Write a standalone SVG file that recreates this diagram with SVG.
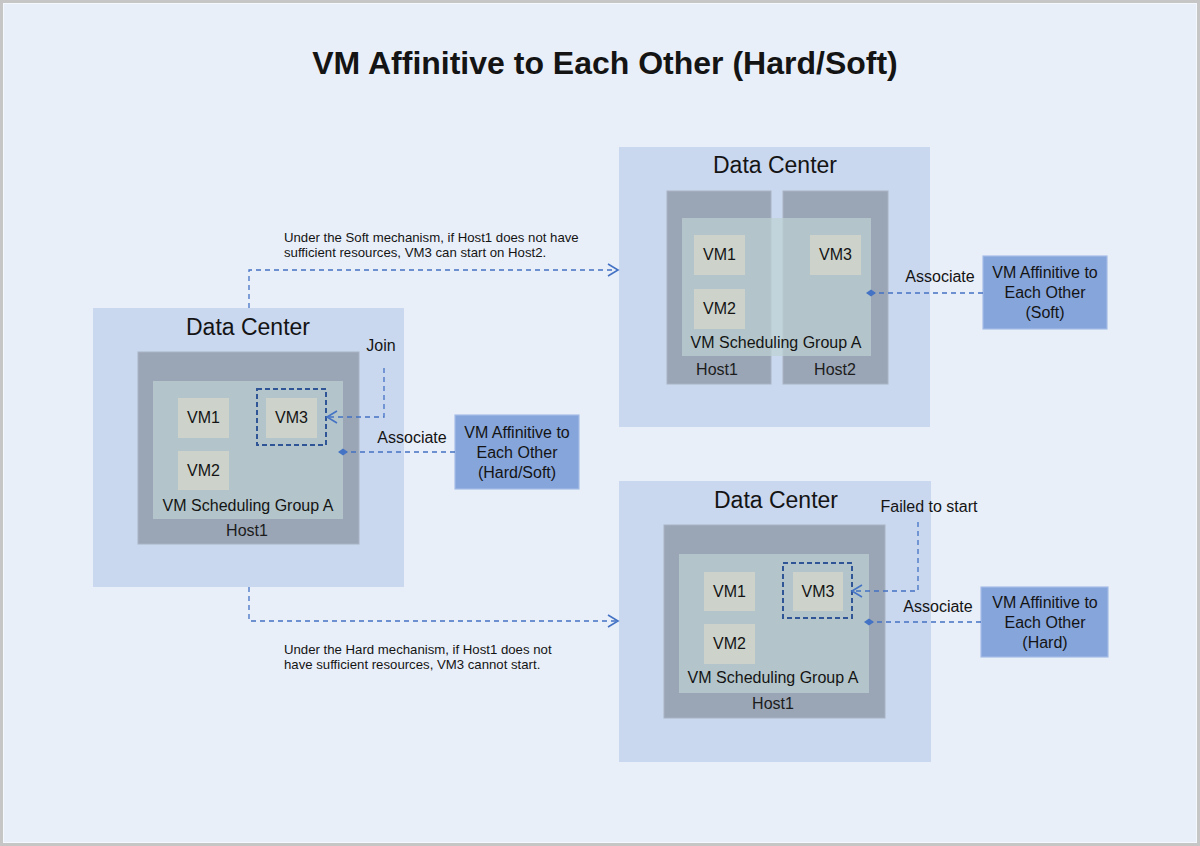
<svg xmlns="http://www.w3.org/2000/svg" width="1200" height="846" viewBox="0 0 1200 846">
<style>
text{font-family:"Liberation Sans",Arial,Helvetica,sans-serif;fill:#141414}
.title{font-size:32px;font-weight:bold;text-anchor:middle}
.dc{fill:#C9D7EF}
.dct{font-size:23px;text-anchor:middle}
.host{fill:#9AA5B5;stroke:#A9B3C3;stroke-width:1}
.grp{fill:#BED3D3;fill-opacity:0.7}
.vm{fill:#CDD3CB}
.lbl{font-size:16px;text-anchor:middle}
.vml{font-size:16px;text-anchor:middle}
.hl{font-size:16px;text-anchor:middle;fill:#1c1c1c}
.note{font-size:13.2px}
.pol{fill:#86A5DB;stroke:#A6BCE6;stroke-width:1.2}
.sel{fill:none;stroke:#2F5597;stroke-width:2;stroke-dasharray:5,3}
.con{fill:none;stroke:#4472C4;stroke-width:1.3;stroke-dasharray:5,4}
</style>
<defs>
<marker id="arr" markerUnits="userSpaceOnUse" markerWidth="13" markerHeight="15" refX="11" refY="7.5" orient="auto">
<path d="M1,1.5 L11,7.5 L1,13.5" fill="none" stroke="#4472C4" stroke-width="1.6"/>
</marker>
<marker id="dia" markerUnits="userSpaceOnUse" markerWidth="10" markerHeight="8" refX="5" refY="4" orient="auto">
<path d="M0,4 L5,0.5 L10,4 L5,7.5 Z" fill="#4472C4"/>
</marker>
</defs>
<rect x="0" y="0" width="1200" height="846" fill="#C6C6C6"/>
<rect x="3.5" y="3.5" width="1193" height="839" fill="#E9EFF9" stroke="#F5F8FC" stroke-width="1"/>
<text class="title" x="605" y="74">VM Affinitive to Each Other (Hard/Soft)</text>

<g id="dc-left">
<rect class="dc" x="93" y="308" width="311" height="279"/>
<text class="dct" x="248" y="335">Data Center</text>
<rect class="host" x="138" y="352" width="221" height="192"/>
<rect class="grp" x="153" y="381" width="190" height="138"/>
<rect class="vm" x="178" y="398" width="51" height="40"/>
<text class="vml" x="203.5" y="423">VM1</text>
<rect class="vm" x="178" y="451" width="51" height="39"/>
<text class="vml" x="203.5" y="476">VM2</text>
<rect class="vm" x="266" y="398" width="51" height="40"/>
<text class="vml" x="291.5" y="423">VM3</text>
<rect class="sel" x="257" y="389" width="69" height="56"/>
<text class="lbl" x="248" y="511">VM Scheduling Group A</text>
<text class="hl" x="247" y="536">Host1</text>
</g>

<g id="policy-hardsoft">
<rect class="pol" x="455" y="415" width="124" height="74"/>
<text class="lbl" x="517" y="438">VM Affinitive to</text>
<text class="lbl" x="517" y="458">Each Other</text>
<text class="lbl" x="517" y="478">(Hard/Soft)</text>
</g>

<g id="dc-soft">
<rect class="dc" x="619" y="147" width="311" height="280"/>
<text class="dct" x="775" y="173">Data Center</text>
<rect class="host" x="667" y="191" width="104" height="193"/>
<rect class="host" x="783" y="191" width="105" height="193"/>
<rect class="grp" x="682" y="218" width="189" height="138"/>
<rect class="vm" x="694" y="235" width="51" height="40"/>
<text class="vml" x="719.5" y="260">VM1</text>
<rect class="vm" x="694" y="289" width="51" height="40"/>
<text class="vml" x="719.5" y="314">VM2</text>
<rect class="vm" x="810" y="235" width="51" height="40"/>
<text class="vml" x="835.5" y="260">VM3</text>
<text class="lbl" x="776" y="348">VM Scheduling Group A</text>
<text class="hl" x="717" y="375">Host1</text>
<text class="hl" x="835" y="375">Host2</text>
</g>

<g id="policy-soft">
<rect class="pol" x="983" y="256" width="124" height="73"/>
<text class="lbl" x="1045" y="278">VM Affinitive to</text>
<text class="lbl" x="1045" y="298">Each Other</text>
<text class="lbl" x="1045" y="318">(Soft)</text>
</g>

<g id="dc-hard">
<rect class="dc" x="619" y="481" width="312" height="281"/>
<text class="dct" x="776" y="508">Data Center</text>
<rect class="host" x="664" y="525" width="221" height="193"/>
<rect class="grp" x="679" y="554" width="190" height="139"/>
<rect class="vm" x="704" y="572" width="51" height="39"/>
<text class="vml" x="729.5" y="597">VM1</text>
<rect class="vm" x="704" y="624" width="51" height="40"/>
<text class="vml" x="729.5" y="649">VM2</text>
<rect class="vm" x="793" y="572" width="50" height="39"/>
<text class="vml" x="818" y="597">VM3</text>
<rect class="sel" x="783" y="563" width="69" height="55"/>
<text class="lbl" x="773" y="683">VM Scheduling Group A</text>
<text class="hl" x="773" y="709">Host1</text>
</g>

<g id="policy-hard">
<rect class="pol" x="981" y="587" width="127" height="70"/>
<text class="lbl" x="1045" y="608">VM Affinitive to</text>
<text class="lbl" x="1045" y="628">Each Other</text>
<text class="lbl" x="1045" y="648">(Hard)</text>
</g>

<g id="connectors">
<path class="con" d="M249,308 V270 H618" marker-end="url(#arr)"/>
<path class="con" d="M249,587 V621 H618" marker-end="url(#arr)"/>
<path class="con" d="M384,368 V417 H327" marker-end="url(#arr)"/>
<path class="con" d="M455,452 H343" marker-end="url(#dia)"/>
<path class="con" d="M983,293 H871" marker-end="url(#dia)"/>
<path class="con" d="M918,522 V591 H852" marker-end="url(#arr)"/>
<path class="con" d="M981,622 H869" marker-end="url(#dia)"/>
</g>

<g id="labels">
<text class="note" x="284" y="242">Under the Soft mechanism, if Host1 does not have</text>
<text class="note" x="284" y="257">sufficient resources, VM3 can start on Host2.</text>
<text class="note" x="284" y="654">Under the Hard mechanism, if Host1 does not</text>
<text class="note" x="284" y="669">have sufficient resources, VM3 cannot start.</text>
<text class="lbl" x="381" y="351">Join</text>
<text class="lbl" x="412" y="443">Associate</text>
<text class="lbl" x="940" y="282">Associate</text>
<text class="lbl" x="929" y="512">Failed to start</text>
<text class="lbl" x="938" y="612">Associate</text>
</g>
</svg>
